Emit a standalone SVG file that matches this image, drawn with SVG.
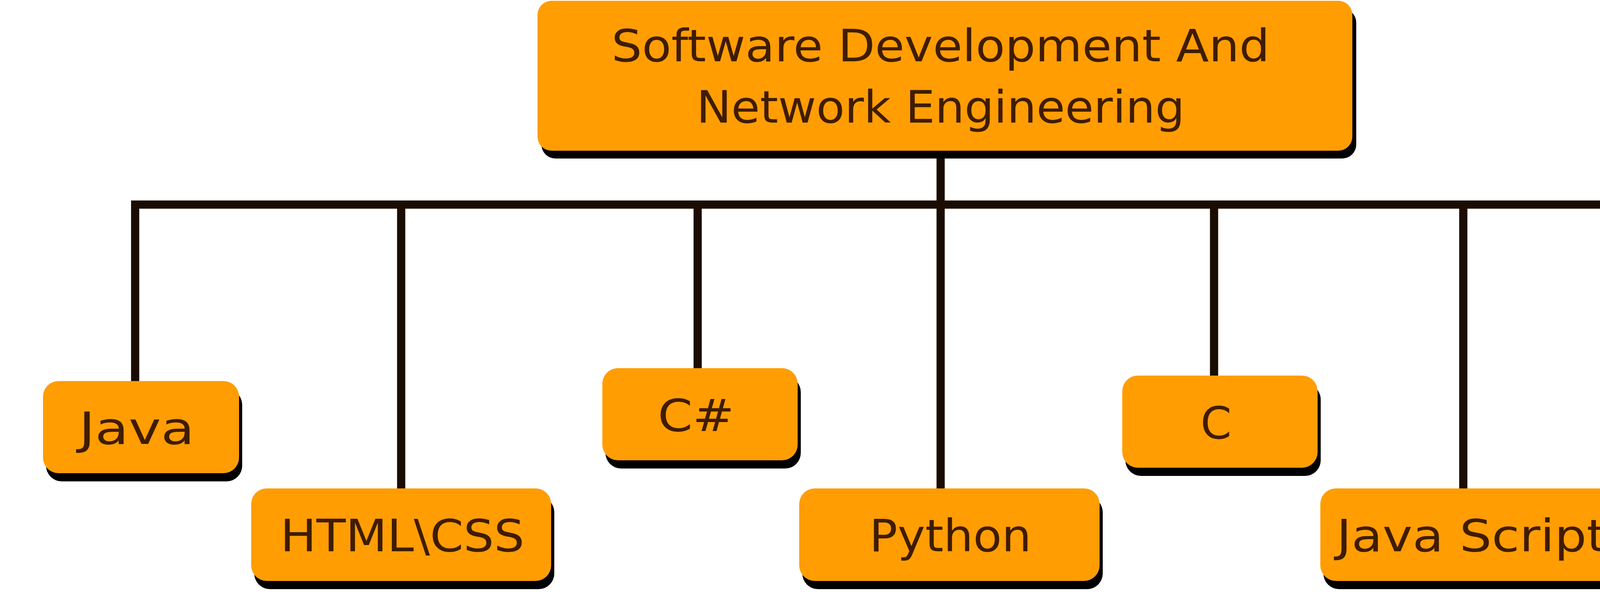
<svg xmlns="http://www.w3.org/2000/svg" width="4827" height="1524" viewBox="0 0 4827 1524">
<defs>
<style>
.box{fill:#FF9D03}
.sh{fill:#000000}
.t{font-family:"DejaVu Sans","Liberation Sans",sans-serif;font-size:114px;fill:#3F1C00;text-anchor:middle}
.ln{fill:none;stroke:#1A0C00;stroke-width:21;stroke-linejoin:miter;stroke-linecap:butt}
</style>
</defs>
<rect width="4827" height="1524" fill="#FFFFFF"/>
<g id="connectors">
<path class="ln" d="M346 976 V524 H4478 V940"/>
<path class="ln" d="M2408 386 V1251"/>
<path class="ln" d="M1027 524 V1251"/>
<path class="ln" d="M1786 524 V943"/>
<path class="ln" d="M3108 524 V962"/>
<path class="ln" d="M3746 524 V1251"/>
</g>
<g id="root">
<rect class="sh" x="1386" y="22" width="2086" height="384" rx="36"/>
<rect class="box" x="1376" y="2" width="2086" height="384" rx="36"/>
<text class="t" x="2408" y="157" textLength="1685" lengthAdjust="spacingAndGlyphs">Software Development And</text>
<text class="t" x="2408" y="314" textLength="1250" lengthAdjust="spacingAndGlyphs">Network Engineering</text>
</g>
<g id="java">
<rect class="sh" x="118" y="997" width="502" height="236" rx="40"/>
<rect class="box" x="110" y="976" width="502" height="236" rx="40"/>
<text class="t" x="350" y="1137" textLength="296" lengthAdjust="spacingAndGlyphs">Java</text>
</g>
<g id="htmlcss">
<rect class="sh" x="651" y="1272" width="768" height="237" rx="40"/>
<rect class="box" x="643" y="1251" width="768" height="237" rx="40"/>
<text class="t" x="1030" y="1412" textLength="625" lengthAdjust="spacingAndGlyphs">HTML\CSS</text>
</g>
<g id="csharp">
<rect class="sh" x="1550" y="964" width="500" height="236" rx="40"/>
<rect class="box" x="1542" y="943" width="500" height="236" rx="40"/>
<text class="t" x="1782" y="1104" textLength="196" lengthAdjust="spacingAndGlyphs">C#</text>
</g>
<g id="python">
<rect class="sh" x="2054" y="1272" width="769" height="237" rx="40"/>
<rect class="box" x="2046" y="1251" width="769" height="237" rx="40"/>
<text class="t" x="2433" y="1412" textLength="415" lengthAdjust="spacingAndGlyphs">Python</text>
</g>
<g id="c">
<rect class="sh" x="2881" y="983" width="500" height="236" rx="40"/>
<rect class="box" x="2873" y="962" width="500" height="236" rx="40"/>
<text class="t" x="3113" y="1123">C</text>
</g>
<g id="javascript">
<rect class="sh" x="3388" y="1272" width="769" height="237" rx="40"/>
<rect class="box" x="3380" y="1251" width="769" height="237" rx="40"/>
<text class="t" x="3767" y="1412" textLength="691" lengthAdjust="spacingAndGlyphs">Java Script</text>
</g>
<g id="sql">
<rect class="sh" x="4244" y="961" width="500" height="236" rx="40"/>
<rect class="box" x="4236" y="940" width="500" height="236" rx="40"/>
<text class="t" x="4479" y="1101" textLength="222" lengthAdjust="spacingAndGlyphs">SQL</text>
</g>
</svg>
